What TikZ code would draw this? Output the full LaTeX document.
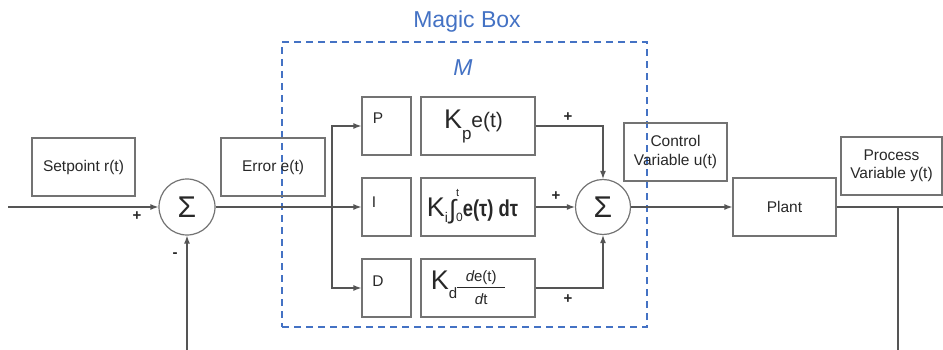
\documentclass[tikz,border=0pt]{standalone}
\usepackage{fontspec}
\usepackage{graphicx}
\setmainfont{Liberation Sans}
\usetikzlibrary{arrows.meta}
\definecolor{linec}{RGB}{85,85,85}
\definecolor{boxc}{RGB}{115,115,115}
\definecolor{txtc}{RGB}{40,40,40}
\definecolor{magic}{RGB}{68,114,196}
\newcommand{\fs}[1]{\fontsize{#1}{#1}\selectfont}
\newcommand{\kdfrac}{\raisebox{-15pt}{\vbox{\hbox to 48pt{\hfil{\fs{15}\itshape d\upshape e(t)}\hfil}\kern2pt\hrule height 0.9pt\kern 6pt\hbox to 48pt{\hfil{\fs{15}\itshape d\upshape t}\hfil}}}}
\begin{document}
\begin{tikzpicture}[x=1pt, y=-1pt,
  font=\fontsize{15.5}{18.5}\selectfont, text=txtc,
  box/.style={draw=boxc, line width=1.2pt, minimum width=103pt, minimum height=58pt, inner sep=0pt, align=center},
  sumc/.style={circle, draw=boxc, line width=1.2pt, minimum size=56pt, inner sep=0pt, font=\fs{30}},
  conn/.style={draw=linec, line width=1.3pt},
  arr/.style={conn, -{Latex[length=8pt,width=6pt]}},
  sign/.style={font=\fs{15}\bfseries, inner sep=0pt},
  magictxt/.style={text=magic, font=\fs{23}, inner sep=0pt}]
\useasboundingbox (0,0) rectangle (943,350);
% magic box
\node[draw=magic, line width=1.5pt, dash pattern=on 7pt off 5pt, minimum width=365pt, minimum height=285pt, inner sep=0pt] (mb) at (464.5,184.5) {};
\node[magictxt] (mbt) at (467,22) {Magic Box};
\node[magictxt, font=\fs{23}\itshape] (mlab) at (463,68) {M};
% blocks
\node[box] (setp) at (83.5,167) {Setpoint r(t)};
\node[sumc] (s1) at (187,207) {Σ};
\node[box, minimum width=104pt] (err) at (273,167) {Error e(t)};
\node[box, minimum width=49pt] (P) at (386.5,126) {};
\node[box, minimum width=49pt] (I) at (386.5,207) {};
\node[box, minimum width=49pt] (D) at (386.5,288) {};
\node (Pt) at (378,118) {P};
\node (It) at (374,202) {I};
\node (Dt) at (378,281) {D};
\node[box, minimum width=114pt] (Kp) at (478,126) {{\fs{27}K}\raisebox{-11pt}{\fs{17}p}\raisebox{1pt}{\fs{21}e(t)}\hspace*{9pt}};
\node[box, minimum width=114pt] (Ki) at (478,207) {{\fs{27}K}\raisebox{-6pt}{\fs{14}i}\hspace{1pt}\raisebox{-2pt}{\fs{26}∫}\rlap{\raisebox{20pt}{\fs{11}t}}\raisebox{-5pt}{\fs{12}0}\scalebox{0.8}[1]{\fs{23}\bfseries e(τ) dτ}\hspace*{11pt}};
\node[box, minimum width=114pt] (Kd) at (478,288) {{\fs{27}K}\raisebox{-9pt}{\fs{15}d}\kdfrac\hspace*{20pt}};
\node[sumc, minimum size=55pt] (s2) at (603,207) {Σ};
\node[box] (ctrl) at (675.5,152) {Control\\Variable u(t)};
\node[box, minimum width=103pt] (plant) at (784.5,207) {Plant};
\node[box, minimum width=101pt] (proc) at (891.5,166) {Process\\Variable y(t)};
% connectors
\coordinate (in) at (8,207);
\coordinate (fb1) at (187,350);
\coordinate (j) at (332,207);
\coordinate (out) at (943,207);
\coordinate (fb2t) at (898,207);
\coordinate (fb2b) at (898,350);
\draw[arr] (in) -- (s1.west);
\draw[arr] (fb1) -- (s1.south);
\draw[arr] (s1.east) -- (I.west);
\draw[arr] (j) |- (P.west);
\draw[arr] (j) |- (D.west);
\draw[arr] (Kp.east) -| (s2.north);
\draw[arr] (Ki.east) -- (s2.west);
\draw[arr] (Kd.east) -| (s2.south);
\draw[arr] (s2.east) -- (plant.west);
\draw[conn] (plant.east) -- (out);
\draw[conn] (fb2t) -- (fb2b);
% signs
\node[sign] (p1) at (137,216) {+};
\node[sign] (m1) at (175,255) {-};
\node[sign] (p2) at (568,117) {+};
\node[sign] (p3) at (556,196) {+};
\node[sign] (p4) at (568,299) {+};
\end{tikzpicture}
\end{document}
